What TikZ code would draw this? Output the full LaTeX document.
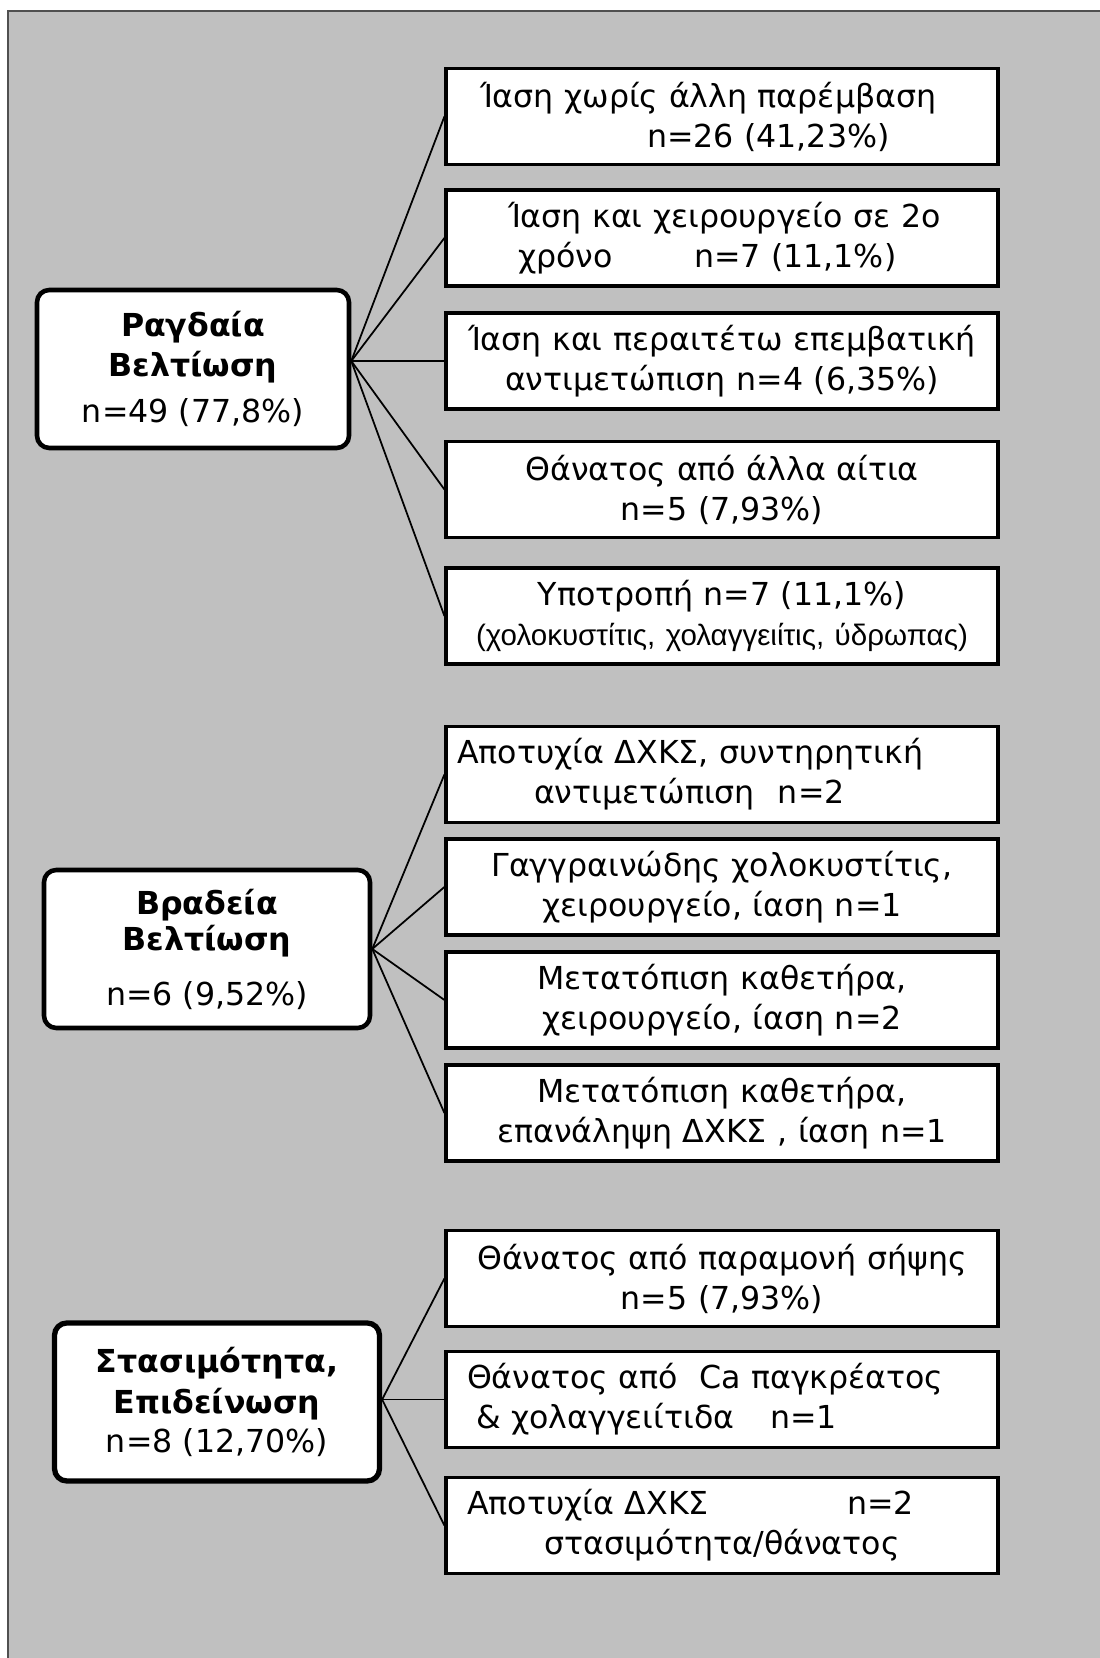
\documentclass[tikz,border=0pt]{standalone}
\usepackage{fontspec}
\setmainfont{DejaVu Sans}
\newfontfamily\notefont{Liberation Sans}
\usetikzlibrary{calc}
\definecolor{panelgray}{HTML}{C0C0C0}
\definecolor{framegray}{HTML}{505050}
% line that starts at a fixed indent inside a result box
\newcommand{\lft}[2]{\makebox[\linewidth][l]{\hspace*{#1}#2}}

\begin{document}
\begin{tikzpicture}[
    course/.style={rectangle, draw, fill=white, line width=2.6pt,
                   rounded corners=7pt, minimum width=6.24cm,
                   minimum height=3.16cm, align=center, inner sep=0pt,
                   font=\fontsize{18}{20.5}\selectfont},
    result/.style={rectangle, draw, fill=white, line width=1.8pt,
                   minimum width=11.04cm, minimum height=1.92cm,
                   text width=11.04cm, inner xsep=0pt, inner ysep=0pt,
                   align=center, font=\fontsize{18}{22.8}\selectfont},
    link/.style={line width=1pt}
]

% Panel
\useasboundingbox (0,0) rectangle (22,33.16);
\fill[panelgray] (0.16,0) rectangle (22,32.94);
\draw[framegray, line width=0.8pt] (0.16,0) -- (0.16,32.94) -- (22,32.94);

% Course groups
\node[course] at (3.86,25.78) (rapid) {{\bfseries Ραγδαία}\\[0.08cm]{\bfseries Βελτίωση}\\[0.2cm]n=49 (77,8\%)};
\node[course, minimum width=6.52cm] at (4.14,14.18) (slow) {{\bfseries Βραδεία}\\{\bfseries Βελτίωση}\\[0.38cm]n=6 (9,52\%)};
\node[course, line width=3pt, minimum width=6.5cm] at (4.34,5.12) (stasis) {{\bfseries Στασιμότητα,}\\[0.1cm]{\bfseries Επιδείνωση}\\[0.06cm]n=8 (12,70\%)};

% Outcomes after rapid improvement
\node[result] at (14.44,30.83) (r1) {\lft{0.68cm}{Ίαση χωρίς άλλη παρέμβαση}\\
    \lft{4.02cm}{n=26 (41,23\%)}};
\node[result] at (14.44,28.40) (r2) {\lft{1.24cm}{Ίαση και χειρουργείο σε 2ο}\\
    \lft{1.44cm}{\makebox[3.52cm][l]{χρόνο}n=7 (11,1\%)}};
\node[result] at (14.44,25.94) (r3) {Ίαση και περαιτέτω επεμβατική\\αντιμετώπιση n=4 (6,35\%)};
\node[result] at (14.44,23.37) (r4) {Θάνατος από άλλα αίτια\\n=5 (7,93\%)};
\node[result] at (14.44,20.84) (r5) {Υποτροπή n=7 (11,1\%)\\
    {\notefont\fontsize{16.8}{18}\selectfont (χολοκυστίτις, χολαγγειίτις, ύδρωπας)}};

% Outcomes after slow improvement
\node[result] at (14.44,17.67) (r6) {\lft{0.22cm}{Αποτυχία ΔΧΚΣ, συντηρητική}\\
    \lft{1.76cm}{\makebox[4.88cm][l]{αντιμετώπιση}n=2}};
\node[result] at (14.44,15.42) (r7) {Γαγγραινώδης χολοκυστίτις,\\χειρουργείο, ίαση n=1};
\node[result] at (14.44,13.16) (r8) {Μετατόπιση καθετήρα,\\χειρουργείο, ίαση n=2};
\node[result] at (14.44,10.90) (r9) {Μετατόπιση καθετήρα,\\επανάληψη ΔΧΚΣ~, ίαση n=1};

% Outcomes after stasis / deterioration
\node[result] at (14.44,7.59) (r10) {Θάνατος από παραμονή σήψης\\n=5 (7,93\%)};
\node[result] at (14.44,5.17) (r11) {\lft{0.42cm}{Θάνατος από\ \ Ca παγκρέατος}\\
    \lft{0.60cm}{\makebox[5.88cm][l]{\& χολαγγειίτιδα}n=1}};
\node[result] at (14.44,2.65) (r12) {\lft{0.42cm}{\makebox[7.6cm][l]{Αποτυχία ΔΧΚΣ}n=2}\\
    στασιμότητα/θάνατος};

% Links
\foreach \k in {r1,r2,r3,r4,r5}
    \draw[link] (rapid.east |- r3.west) -- (\k.west);
\foreach \k in {r6,r7,r8,r9}
    \draw[link] (slow.east) -- (\k.west);
\foreach \k in {r10,r11,r12}
    \draw[link] (stasis.east |- r11.west) -- (\k.west);

\end{tikzpicture}
\end{document}
